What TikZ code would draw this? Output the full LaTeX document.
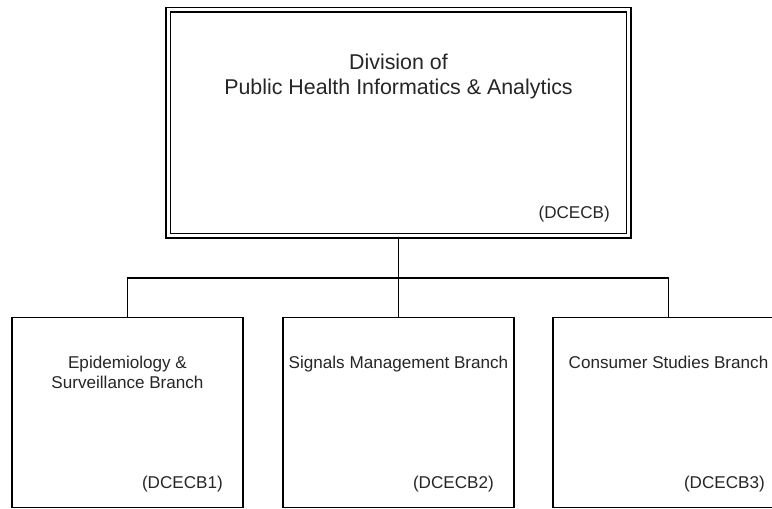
\documentclass[tikz,border=0pt]{standalone}
\usepackage{fontspec}
\setmainfont{Liberation Sans}
\usetikzlibrary{calc}
\begin{document}
\begin{tikzpicture}[x=1pt,y=-1pt,
  divbox/.style={draw=black, line width=1.3pt, double=white, double distance=3.2pt,
    minimum width=460.5pt, minimum height=226pt, inner sep=0pt, outer sep=2.9pt, anchor=center},
  branchbox/.style={draw=black, line width=1.4pt, minimum width=231pt, minimum height=190pt,
    inner sep=0pt, anchor=center},
  bigtext/.style={font=\fontsize{21.4}{25}\selectfont, text=black!85, anchor=base, inner sep=0pt},
  smalltext/.style={font=\fontsize{17.1}{20}\selectfont, text=black!85, anchor=base, inner sep=0pt},
  codetext/.style={font=\fontsize{17.1}{20}\selectfont, text=black!85, anchor=base east, inner sep=0pt},
  link/.style={line width=1.4pt}]
\useasboundingbox (0,0) rectangle (772,509);
\clip (0,0) rectangle (772,509);
\fill[white] (0,0) rectangle (772,509);

% boxes
\node[divbox] (div) at (398.5,122.75) {};
\node[branchbox] (b1) at (127.5,412.5) {};
\node[branchbox] (b2) at (398.5,412.5) {};
\node[branchbox] (b3) at (668.5,412.5) {};

% texts
\node[bigtext] (t0a) at (398.5,69.5) {Division of};
\node[bigtext] (t0b) at (398.5,94.3) {Public Health Informatics \& Analytics};
\node[codetext] (c0) at (610,218) {(DCECB)};

\node[smalltext] (t1a) at (127.5,368) {Epidemiology \&};
\node[smalltext] (t1b) at (127.5,388) {Surveillance Branch};
\node[codetext] (c1) at (223,488) {(DCECB1)};

\node[smalltext] (t2) at (398.5,368) {Signals Management Branch};
\node[codetext] (c2) at (494,488) {(DCECB2)};

\node[smalltext] (t3) at (668.5,368) {Consumer Studies Branch};
\node[codetext] (c3) at (765,488) {(DCECB3)};

% connectors
\coordinate (bus) at (398.5,278);
\draw[link] (div.south) -- (bus);
\draw[link] (b1.north) |- (bus) -| (b3.north);
\draw[link] (bus) -- (b2.north);
\end{tikzpicture}
\end{document}
